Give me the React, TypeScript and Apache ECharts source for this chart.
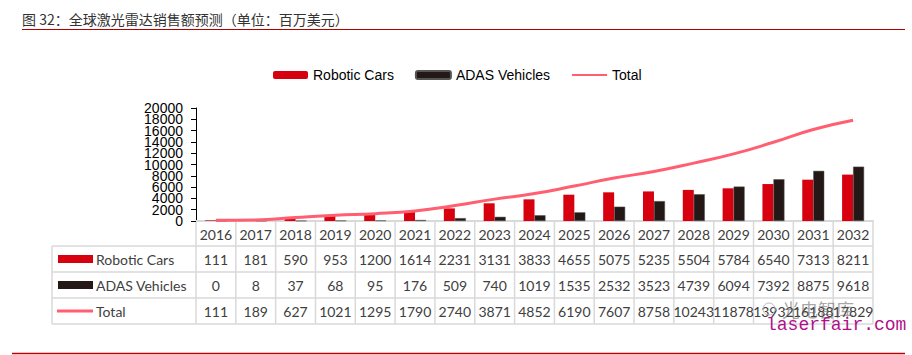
import React, { useEffect, useRef } from "react";
import * as echarts from "echarts";

const years = ["2016", "2017", "2018", "2019", "2020", "2021", "2022", "2023", "2024", "2025", "2026", "2027", "2028", "2029", "2030", "2031", "2032"];
const roboticCars = [111, 181, 590, 953, 1200, 1614, 2231, 3131, 3833, 4655, 5075, 5235, 5504, 5784, 6540, 7313, 8211];
const adasVehicles = [0, 8, 37, 68, 95, 176, 509, 740, 1019, 1535, 2532, 3523, 4739, 6094, 7392, 8875, 9618];
const total = [111, 189, 627, 1021, 1295, 1790, 2740, 3871, 4852, 6190, 7607, 8758, 10243, 11878, 13932, 16188, 17829];
const yTicks = [0, 2000, 4000, 6000, 8000, 10000, 12000, 14000, 16000, 18000, 20000];
const seriesNames = ["Robotic Cars", "ADAS Vehicles", "Total"];
const titleText = "图 32：全球激光雷达销售额预测（单位：百万美元）";

const W = 912;
const H = 355;
const GRID_L = 196;
const GRID_R = 873;
const GRID_T = 108;
const GRID_B = 221;
const RED = "#d7000f";
const DARK = "#231815";
const PINK = "#ff5f70";
const GRIDC = "#d9d9d9";
const TXT = "#404040";
const TFONT = "14px Lato";

export default function App() {
  const ref = useRef<HTMLDivElement>(null);
  useEffect(() => {
    if (!ref.current) return;
    const chart = echarts.init(ref.current, null, { renderer: "svg" });
    const n = years.length;
    const colW = (GRID_R - GRID_L) / n;
    const headerBottom = GRID_B + 25;
    const rowH = 26;
    const tableLeft = 52;
    const tableBottom = headerBottom + rowH * 3;
    const g: any[] = [];
    const line = (x1: number, y1: number, x2: number, y2: number, stroke: string, lw: number) =>
      g.push({ type: "line", silent: true, shape: { x1, y1, x2, y2 }, style: { stroke, lineWidth: lw } });
    // title
    g.push({ type: "text", left: 22, top: 12, style: { text: titleText, font: "14px 'Noto Sans CJK SC'", fill: "#333" } });
    line(22, 29.5, 905, 29.5, "#b00000", 1.2);
    line(12, 353.5, 905, 353.5, "#c00000", 1.5);
    // table grid
    for (let i = 0; i <= n; i++) {
      const x = GRID_L + i * colW;
      line(x, GRID_B, x, tableBottom, GRIDC, 1.5);
    }
    line(tableLeft, headerBottom, tableLeft, tableBottom, GRIDC, 1.5);
    for (let r = 0; r < 4; r++) {
      const y = headerBottom + r * rowH;
      line(tableLeft, y, GRID_R, y, GRIDC, 1.5);
    }
    const cellText = (text: string, x: number, y: number, align: string) =>
      g.push({ type: "text", silent: true, style: { text, x, y, font: TFONT, fill: TXT, textAlign: align, textVerticalAlign: "middle", verticalAlign: "middle" } });
    years.forEach((yr, i) => cellText(yr, GRID_L + (i + 0.5) * colW, (GRID_B + headerBottom) / 2 + 1, "center"));
    const rows = [roboticCars, adasVehicles, total];
    rows.forEach((vals, r) => {
      const cy = headerBottom + (r + 0.5) * rowH;
      vals.forEach((v, i) => cellText(String(v), GRID_L + (i + 0.5) * colW, cy, "center"));
      cellText(seriesNames[r], 96, cy, "left");
      if (r < 2) {
        g.push({ type: "rect", silent: true, shape: { x: 58, y: cy - 4, width: 35, height: 8 }, style: { fill: r === 0 ? RED : DARK } });
      } else {
        line(57, cy, 93, cy, PINK, 3);
      }
    });
    // watermark
    g.push({ type: "circle", silent: true, z: 100, shape: { cx: 769, cy: 309, r: 6 }, style: { fill: "none", stroke: "#bbb", lineWidth: 1 } });
    g.push({ type: "text", silent: true, z: 100, style: { text: "光电智库", x: 782, y: 309, font: "18px 'Noto Sans CJK SC'", fill: "rgba(90,90,90,0.55)", textVerticalAlign: "middle", verticalAlign: "middle" } });
    g.push({ type: "text", silent: true, z: 101, style: { text: "laserfair.com", x: 766, y: 325, font: "18px 'Liberation Mono'", fill: "#b0108a", textVerticalAlign: "middle", verticalAlign: "middle" } });

    chart.setOption({
      animation: false,
      backgroundColor: "#fff",
      legend: {
        left: 268,
        top: 63,
        itemWidth: 35,
        itemHeight: 8,
        itemGap: 21,
        textStyle: { fontFamily: "Liberation Sans", fontSize: 14, color: "#000" },
        data: [seriesNames[0], seriesNames[1], { name: seriesNames[2], itemStyle: { opacity: 0 } }],
      },
      grid: { left: GRID_L, right: W - GRID_R, top: GRID_T, bottom: H - GRID_B, containLabel: false },
      xAxis: {
        type: "category",
        data: years,
        axisLine: { show: true, lineStyle: { color: GRIDC, width: 2 } },
        axisTick: { show: false },
        axisLabel: { show: false },
      },
      yAxis: {
        type: "value",
        min: yTicks[0],
        max: yTicks[yTicks.length - 1],
        interval: yTicks[1] - yTicks[0],
        axisLine: { show: true, lineStyle: { color: "#000", width: 1 } },
        axisTick: { show: true, length: 5, lineStyle: { color: "#000" } },
        splitLine: { show: false },
        axisLabel: { show: false },
      },
      series: [
        { name: seriesNames[0], type: "bar", data: roboticCars, barWidth: 11, barGap: "0%", itemStyle: { color: RED } },
        { name: seriesNames[1], type: "bar", data: adasVehicles, barWidth: 11, barGap: "0%", itemStyle: { color: DARK, borderColor: "#555", borderWidth: 0.5 } },
        { name: seriesNames[2], type: "line", data: total, smooth: true, symbol: "none", showSymbol: false, lineStyle: { color: PINK, width: 3 }, itemStyle: { color: PINK }, z: 5 },
      ],
      graphic: g,
    });
    // y-axis labels placed through the axis scale (the library hides overlapping ones otherwise)
    const labels = yTicks.map((v) => {
      const y = chart.convertToPixel({ yAxisIndex: 0 }, v) as number;
      return {
        type: "text",
        silent: true,
        style: { text: String(v), x: GRID_L - 13, y, font: "14px 'Liberation Sans'", fill: "#000", textAlign: "right", textVerticalAlign: "middle", verticalAlign: "middle" },
      };
    });
    chart.setOption({ graphic: [...g, ...labels] });
    return () => chart.dispose();
  }, []);
  return <div ref={ref} style={{ position: "fixed", left: 0, top: 0, width: W, height: H, background: "#fff" }} />;
}
